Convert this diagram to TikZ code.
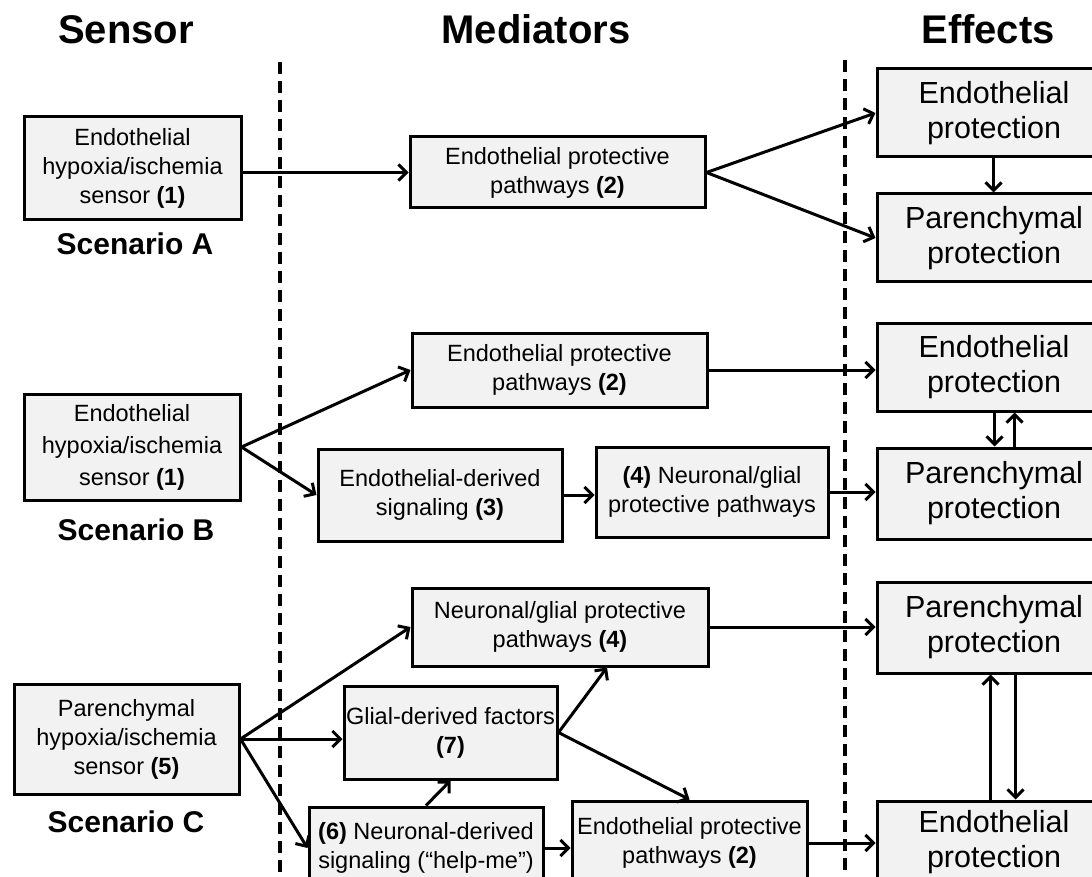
\documentclass[tikz,border=0pt]{standalone}
\usepackage{fontspec}
\setmainfont{Liberation Sans}
\usetikzlibrary{arrows.meta,calc}
\definecolor{boxgray}{HTML}{F2F2F2}
\begin{document}
\begin{tikzpicture}[x=1pt,y=-1pt,
  box/.style={draw, line width=3pt, fill=boxgray, inner sep=1pt, align=center,
    font=\fontsize{23.5}{29}\selectfont},
  bigbox/.style={box, font=\fontsize{30.5}{35}\selectfont},
  header/.style={anchor=base, font=\fontsize{40}{44}\selectfont\bfseries},
  scen/.style={anchor=base, font=\fontsize{30}{34}\selectfont\bfseries},
  arr/.style={line width=3pt, -{Straight Barb[length=8pt,width=16pt]}},
  divider/.style={line width=3.2pt, dash pattern=on 12pt off 7pt}]
\useasboundingbox (0,0) rectangle (1092,877);

% headers
\node[header] (hS) at (126,44) {Sensor};
\node[header] (hM) at (536,44) {Mediators};
\node[header] (hE) at (988,44) {Effects};

% dividers
\coordinate (d1t) at (280,62); \coordinate (d1b) at (280,880);
\coordinate (d2t) at (845,60); \coordinate (d2b) at (845,880);
\draw[divider] (d1t) -- (d1b);
\draw[divider] (d2t) -- (d2b);

% Scenario A
\node[box, minimum width=217pt, minimum height=103pt] (SA) at (132.5,168.5)
  {Endothelial\\hypoxia/ischemia\\sensor \textbf{(1)}};
\node[scen] (lA) at (135,255) {Scenario A};
\node[box, minimum width=295pt, minimum height=71pt] (MA) at (557.5,172.5)
  {Endothelial protective\\pathways \textbf{(2)}};
\node[bigbox, minimum width=234pt, minimum height=88pt] (EA1) at (994,113)
  {Endothelial\\protection};
\node[bigbox, minimum width=234pt, minimum height=88pt] (EA2) at (994,238)
  {Parenchymal\\protection};
\draw[arr] (SA.east |- MA.west) -- (MA.west);
\draw[arr] (MA.east) -- (EA1.west);
\draw[arr] (MA.east) -- (EA2.west);
\draw[arr] ([xshift=118pt]EA1.south west) -- ([xshift=118pt]EA2.north west);

% Scenario B
\node[box, minimum width=216pt, minimum height=106pt, font=\fontsize{23.5}{32}\selectfont] (SB) at (132,447)
  {Endothelial\\hypoxia/ischemia\\sensor \textbf{(1)}};
\node[scen] (lB) at (136,540) {Scenario B};
\node[box, minimum width=295pt, minimum height=74pt] (MB1) at (559.5,370)
  {Endothelial protective\\pathways \textbf{(2)}};
\node[box, minimum width=244pt, minimum height=92pt] (MB2) at (440,495)
  {Endothelial-derived\\signaling \textbf{(3)}};
\node[box, minimum width=232pt, minimum height=90pt] (MB3) at (712,492)
  {\textbf{(4)} Neuronal/glial\\protective pathways};
\node[bigbox, minimum width=234pt, minimum height=88pt] (EB1) at (994,367)
  {Endothelial\\protection};
\node[bigbox, minimum width=234pt, minimum height=91pt] (EB2) at (994,493.5)
  {Parenchymal\\protection};
\draw[arr] (SB.east) -- (MB1.west);
\draw[arr] (SB.east) -- (MB2.west);
\draw[arr] (MB1.east) -- (MB1.east -| EB1.west);
\draw[arr] (MB2.east) -- (MB2.east -| MB3.west);
\draw[arr] (MB3.east) -- (MB3.east -| EB2.west);
\draw[arr] ([xshift=119pt]EB1.south west) -- ([xshift=119pt]EB2.north west);
\draw[arr] ([xshift=139pt]EB2.north west) -- ([xshift=139pt]EB1.south west);

% Scenario C
\node[box, minimum width=225pt, minimum height=110pt] (SC) at (126.5,739)
  {Parenchymal\\hypoxia/ischemia\\sensor \textbf{(5)}};
\node[scen] (lC) at (126,832) {Scenario C};
\node[box, minimum width=296pt, minimum height=78pt] (MC1) at (560,627)
  {Neuronal/glial protective\\pathways \textbf{(4)}};
\node[box, minimum width=213pt, minimum height=93pt] (MC2) at (450.5,732.5)
  {Glial-derived factors\\\textbf{(7)}};
\node[box, minimum width=234pt, minimum height=82pt] (MC3) at (426,848)
  {\textbf{(6)} Neuronal-derived\\signaling (“help-me”)};
\node[box, minimum width=235pt, minimum height=84pt] (MC4) at (689.5,843)
  {Endothelial protective\\pathways \textbf{(2)}};
\node[bigbox, minimum width=234pt, minimum height=91pt] (EC1) at (994,627.5)
  {Parenchymal\\protection};
\node[bigbox, minimum width=234pt, minimum height=82pt] (EC2) at (994,842)
  {Endothelial\\protection};
\draw[arr] (SC.east) -- (MC1.west);
\draw[arr] (SC.east) -- (SC.east -| MC2.west);
\draw[arr] (SC.east) -- (MC3.west);
\draw[arr] (MC3.north) -- (MC2.south);
\draw[arr] (MC2.east) -- ([xshift=47pt]MC1.south);
\draw[arr] (MC2.east) -- (MC4.north);
\draw[arr] (MC3.east) -- (MC3.east -| MC4.west);
\draw[arr] (MC1.east) -- (MC1.east -| EC1.west);
\draw[arr] (MC4.east) -- (MC4.east -| EC2.west);
\draw[arr] ([xshift=115pt]EC2.north west) -- ([xshift=115pt]EC1.south west);
\draw[arr] ([xshift=140pt]EC1.south west) -- ([xshift=140pt]EC2.north west);
\end{tikzpicture}
\end{document}
